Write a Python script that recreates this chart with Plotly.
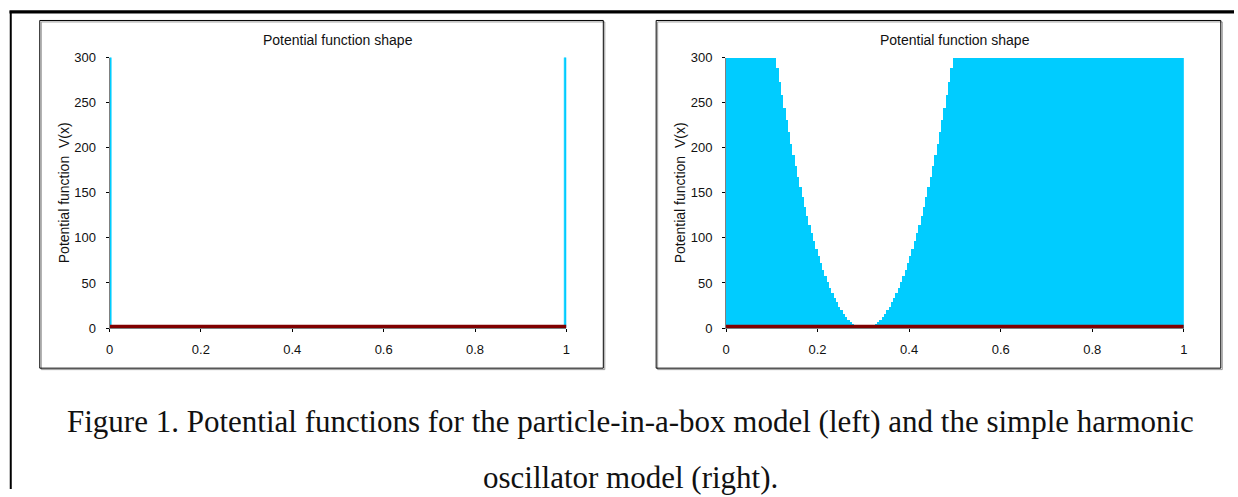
import plotly.graph_objects as go

W, H = 1238, 497

# ---------------- data ----------------
bin_width = 0.005
x_edges = [round(i * bin_width, 3) for i in range(200)]

# particle in a box: walls at both ends
box_V = [300] + [0] * 198 + [300]

# harmonic oscillator (values read from the staircase, clipped at 300)
sho_mid = [288.8, 273.8, 259.2, 245, 231.2, 217.8, 204.8, 192.2, 180, 168.2,
           156.8, 145.8, 135.2, 125, 115.2, 105.8, 96.8, 88.2, 80, 72.2,
           64.8, 57.8, 51.2, 45, 39.2, 33.8, 28.8, 24.2, 20, 16.2,
           12.8, 9.8, 7.2, 5, 3.2, 1.8, 0.8, 0.2,
           0,
           0.2, 0.8, 1.8, 3.2, 5, 7.2, 9.8, 12.8, 16.2, 20,
           24.2, 28.8, 33.8, 39.2, 45, 51.2, 57.8, 64.8, 72.2, 80,
           88.2, 96.8, 105.8, 115.2, 125, 135.2, 145.8, 156.8, 168.2, 180,
           192.2, 204.8, 217.8, 231.2, 245, 259.2, 273.8, 288.8]
sho_V = [300] * 22 + sho_mid + [300] * 101

energy_x = [0, 1]
energy_y = [1.5, 1.5]

y_ticks = [0, 50, 100, 150, 200, 250, 300]
x_ticks = [0, 0.2, 0.4, 0.6, 0.8, 1]

chart_title = "Potential function shape"
y_title = "Potential function  V(x)"
caption1 = "Figure 1. Potential functions for the particle-in-a-box model (left) and the simple harmonic"
caption2 = "oscillator model (right)."

CYAN = "#00CCFF"
DARKRED = "#800000"

def px(x):
    return x / W

def py(y):
    return 1 - y / H

fig = go.Figure()

fig.add_trace(go.Bar(x=x_edges, y=box_V, width=bin_width, offset=0,
                     marker=dict(color=CYAN, line=dict(width=0.6, color=CYAN)),
                     xaxis="x", yaxis="y", showlegend=False))
fig.add_trace(go.Scatter(x=energy_x, y=energy_y, mode="lines",
                         line=dict(color=DARKRED, width=3.8),
                         xaxis="x", yaxis="y", showlegend=False))
fig.add_trace(go.Bar(x=x_edges, y=sho_V, width=bin_width, offset=0,
                     marker=dict(color=CYAN, line=dict(width=0)),
                     xaxis="x2", yaxis="y2", showlegend=False))
fig.add_trace(go.Scatter(x=energy_x, y=energy_y, mode="lines",
                         line=dict(color=DARKRED, width=3.8),
                         xaxis="x2", yaxis="y2", showlegend=False))

tick_font = dict(family="Liberation Sans, Arial", size=13, color="#111")
ydom = [py(331), py(52.2)]

def xaxis_cfg(dom, anchor):
    return dict(domain=dom, anchor=anchor, range=[0, 1], tickvals=x_ticks,
                showgrid=False, zeroline=False, showline=True, linecolor="#808080",
                linewidth=1, ticks="outside", ticklen=3, tickcolor="#000",
                ticklabelstandoff=6,
                tickfont=tick_font, fixedrange=True)

def yaxis_cfg(anchor):
    return dict(domain=ydom, anchor=anchor, range=[0, 300], tickvals=y_ticks,
                showgrid=False, zeroline=False, showline=True, linecolor="#808080",
                linewidth=1, ticks="outside", ticklen=3, tickcolor="#000",
                ticklabelstandoff=7,
                tickfont=tick_font, fixedrange=True,
                title=dict(text=y_title, standoff=1,
                           font=dict(family="Liberation Sans, Arial", size=14, color="#111")))

fig.update_layout(
    width=W, height=H, margin=dict(l=0, r=0, t=0, b=0),
    paper_bgcolor="white", plot_bgcolor="white",
    bargap=0,
    xaxis=xaxis_cfg([px(106.2), px(566.1)], "y"),
    yaxis=yaxis_cfg("x"),
    xaxis2=xaxis_cfg([px(726.7), px(1187.5)], "y2"),
    yaxis2=yaxis_cfg("x2"),
)

shapes = []
# outer frame lines
shapes.append(dict(type="line", xref="paper", yref="paper", x0=px(5.5), x1=1.0,
                   y0=py(5), y1=py(5), line=dict(color="black", width=3.2)))
shapes.append(dict(type="line", xref="paper", yref="paper", x0=px(6.8), x1=px(6.8),
                   y0=0, y1=py(4), line=dict(color="black", width=2)))
# chart boxes with shadow
for (l, r) in [(36.0, 603.2), (656.4, 1224.7)]:
    shapes.append(dict(type="rect", xref="paper", yref="paper",
                       x0=px(l + 1.5), x1=px(r + 1.5), y0=py(372.4 + 1.5), y1=py(13.9 + 1.5),
                       line=dict(color="#9a9a9a", width=1)))
    shapes.append(dict(type="rect", xref="paper", yref="paper",
                       x0=px(l), x1=px(r), y0=py(372.4), y1=py(13.9),
                       line=dict(color="black", width=1), fillcolor="rgba(0,0,0,0)"))
fig.update_layout(shapes=shapes)

annotations = []
for cx in [(106.2 + 566.1) / 2, (726.7 + 1187.5) / 2]:
    annotations.append(dict(text=chart_title, xref="paper", yref="paper",
                            x=px(cx), y=py(33.6), xanchor="center", yanchor="middle",
                            showarrow=False,
                            font=dict(family="Liberation Sans, Arial", size=14, color="#111")))
annotations.append(dict(text=caption1, xref="paper", yref="paper", x=px(630.3), y=py(427),
                        xanchor="center", yanchor="middle", showarrow=False,
                        font=dict(family="Liberation Serif, Times New Roman", size=31, color="#111")))
annotations.append(dict(text=caption2, xref="paper", yref="paper", x=px(630.3), y=py(485.5),
                        xanchor="center", yanchor="middle", showarrow=False,
                        font=dict(family="Liberation Serif, Times New Roman", size=31, color="#111")))
fig.update_layout(annotations=annotations)

fig.write_html("out.html", config={"displayModeBar": False},
               post_script="document.body.style.margin='0';document.body.style.overflow='hidden';")
